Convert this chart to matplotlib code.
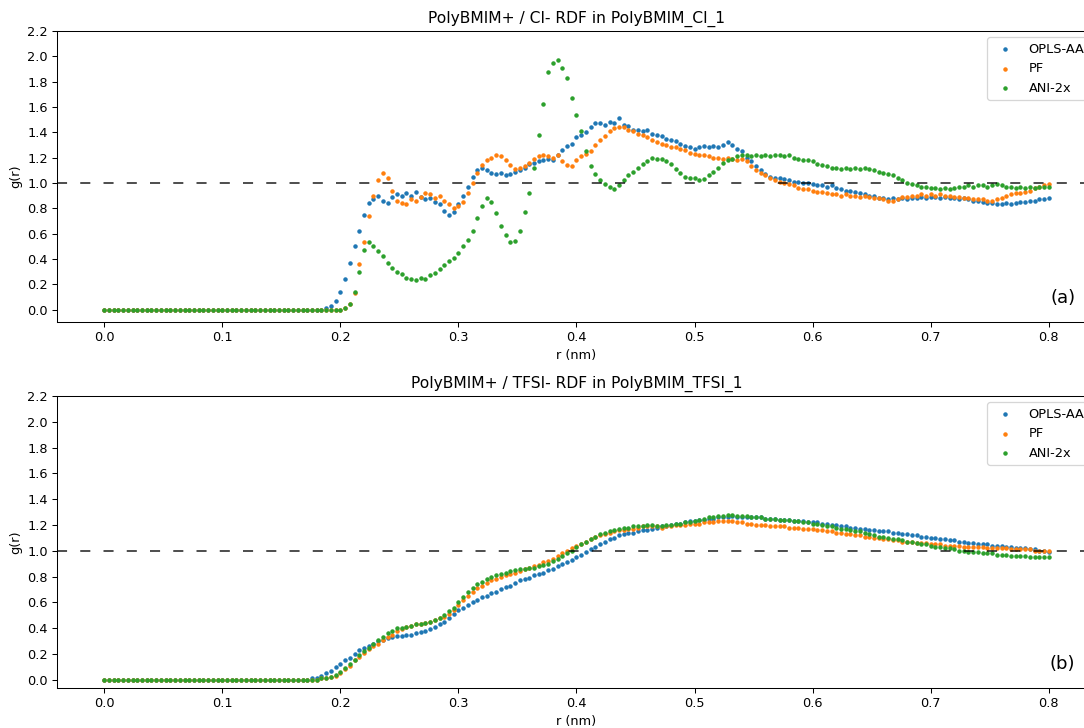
import numpy as np
import matplotlib
matplotlib.use("Agg")
import matplotlib.pyplot as plt

# Radial grid shared by all RDF curves (nm)
R_STEP = 0.004
N_POINTS = 201
r = np.arange(N_POINTS) * R_STEP

labels = ["OPLS-AA", "PF", "ANI-2x"]
colors = ["#1f77b4", "#ff7f0e", "#2ca02c"]

# PolyBMIM+ / Cl- g(r); zero below r = 0.188 nm
cl_opls = [0.0] * 47 + [
    0.01, 0.03, 0.07, 0.14, 0.24, 0.37, 0.50, 0.62, 0.75, 0.84,
    0.87, 0.90, 0.86, 0.84, 0.89, 0.91, 0.90, 0.92, 0.90, 0.93,
    0.89, 0.87, 0.88, 0.85, 0.83, 0.78, 0.75, 0.77, 0.83, 0.90,
    0.97, 1.05, 1.10, 1.12, 1.10, 1.08, 1.07, 1.08, 1.06, 1.07,
    1.09, 1.10, 1.12, 1.15, 1.16, 1.17, 1.18, 1.19, 1.18, 1.22,
    1.26, 1.29, 1.31, 1.36, 1.38, 1.40, 1.44, 1.47, 1.47, 1.46,
    1.48, 1.47, 1.51, 1.46, 1.45, 1.42, 1.42, 1.41, 1.42, 1.39,
    1.38, 1.37, 1.35, 1.34, 1.33, 1.31, 1.29, 1.28, 1.27, 1.28,
    1.29, 1.28, 1.29, 1.28, 1.30, 1.32, 1.30, 1.27, 1.25, 1.20,
    1.17, 1.13, 1.10, 1.07, 1.05, 1.04, 1.04, 1.03, 1.02, 1.01,
    1.01, 1.00, 1.00, 0.99, 0.98, 0.98, 0.97, 0.98, 0.96, 0.95,
    0.94, 0.94, 0.93, 0.92, 0.91, 0.90, 0.90, 0.88, 0.88, 0.87,
    0.88, 0.87, 0.88, 0.87, 0.88, 0.88, 0.89, 0.88, 0.89, 0.89,
    0.88, 0.89, 0.88, 0.88, 0.87, 0.88, 0.87, 0.86, 0.86, 0.85,
    0.84, 0.84, 0.83, 0.83, 0.84, 0.83, 0.84, 0.85, 0.85, 0.86,
    0.86, 0.87, 0.87, 0.88,
]
cl_pf = [0.0] * 47 + [
    0.00, 0.00, 0.00, 0.00, 0.01, 0.04, 0.13, 0.36, 0.53, 0.74,
    0.90, 1.02, 1.08, 1.04, 0.94, 0.86, 0.84, 0.83, 0.87, 0.86,
    0.89, 0.92, 0.91, 0.88, 0.90, 0.86, 0.83, 0.80, 0.82, 0.85,
    0.92, 1.00, 1.08, 1.14, 1.18, 1.20, 1.22, 1.21, 1.18, 1.14,
    1.11, 1.12, 1.13, 1.16, 1.19, 1.21, 1.22, 1.21, 1.20, 1.22,
    1.17, 1.14, 1.13, 1.18, 1.21, 1.23, 1.25, 1.30, 1.34, 1.37,
    1.41, 1.43, 1.44, 1.44, 1.42, 1.41, 1.39, 1.38, 1.36, 1.34,
    1.32, 1.31, 1.30, 1.28, 1.28, 1.27, 1.26, 1.24, 1.23, 1.22,
    1.22, 1.21, 1.20, 1.20, 1.19, 1.20, 1.19, 1.18, 1.19, 1.17,
    1.13, 1.10, 1.08, 1.06, 1.04, 1.02, 1.01, 1.00, 0.99, 0.98,
    0.96, 0.95, 0.95, 0.94, 0.93, 0.93, 0.92, 0.91, 0.91, 0.90,
    0.91, 0.90, 0.90, 0.89, 0.90, 0.89, 0.88, 0.88, 0.87, 0.86,
    0.86, 0.87, 0.89, 0.89, 0.90, 0.90, 0.91, 0.90, 0.91, 0.90,
    0.91, 0.90, 0.90, 0.89, 0.89, 0.88, 0.88, 0.87, 0.87, 0.87,
    0.86, 0.86, 0.87, 0.88, 0.90, 0.91, 0.92, 0.92, 0.93, 0.94,
    0.96, 0.97, 0.98, 0.99,
]
cl_ani = [0.0] * 47 + [
    0.00, 0.00, 0.00, 0.00, 0.01, 0.04, 0.14, 0.30, 0.47, 0.53,
    0.50, 0.46, 0.42, 0.37, 0.33, 0.30, 0.28, 0.25, 0.24, 0.23,
    0.25, 0.24, 0.27, 0.29, 0.32, 0.35, 0.38, 0.41, 0.45, 0.50,
    0.55, 0.62, 0.72, 0.82, 0.88, 0.85, 0.76, 0.66, 0.59, 0.53,
    0.54, 0.62, 0.77, 0.92, 1.12, 1.38, 1.62, 1.88, 1.95, 1.97,
    1.91, 1.83, 1.67, 1.54, 1.41, 1.25, 1.13, 1.07, 1.02, 0.99,
    0.97, 0.95, 0.98, 1.02, 1.06, 1.09, 1.12, 1.15, 1.17, 1.20,
    1.19, 1.19, 1.17, 1.15, 1.11, 1.08, 1.05, 1.04, 1.04, 1.02,
    1.03, 1.06, 1.09, 1.12, 1.16, 1.18, 1.19, 1.21, 1.22, 1.22,
    1.21, 1.22, 1.21, 1.22, 1.21, 1.22, 1.22, 1.21, 1.22, 1.20,
    1.19, 1.18, 1.18, 1.17, 1.15, 1.14, 1.13, 1.12, 1.12, 1.11,
    1.12, 1.11, 1.12, 1.11, 1.12, 1.11, 1.10, 1.09, 1.08, 1.07,
    1.06, 1.04, 1.02, 1.00, 0.99, 0.98, 0.97, 0.97, 0.96, 0.96,
    0.95, 0.96, 0.95, 0.96, 0.97, 0.97, 0.98, 0.97, 0.98, 0.98,
    0.97, 0.98, 0.99, 0.98, 0.97, 0.97, 0.96, 0.97, 0.96, 0.97,
    0.96, 0.97, 0.97, 0.97,
]

# PolyBMIM+ / TFSI- g(r); zero below r = 0.172 nm
tfsi_opls = [0.0] * 43 + [
    0.00, 0.01, 0.01, 0.03, 0.05, 0.07, 0.10, 0.12, 0.15, 0.17,
    0.20, 0.23, 0.25, 0.26, 0.28, 0.30, 0.31, 0.32, 0.33, 0.34,
    0.34, 0.35, 0.35, 0.36, 0.37, 0.38, 0.39, 0.41, 0.43, 0.45,
    0.48, 0.51, 0.54, 0.56, 0.58, 0.60, 0.62, 0.64, 0.65, 0.67,
    0.68, 0.70, 0.72, 0.73, 0.75, 0.77, 0.78, 0.79, 0.81, 0.82,
    0.83, 0.85, 0.86, 0.88, 0.90, 0.91, 0.93, 0.95, 0.97, 0.99,
    1.01, 1.03, 1.05, 1.07, 1.09, 1.10, 1.12, 1.13, 1.14, 1.14,
    1.15, 1.16, 1.16, 1.17, 1.18, 1.19, 1.19, 1.20, 1.21, 1.21,
    1.22, 1.23, 1.23, 1.24, 1.24, 1.25, 1.25, 1.26, 1.26, 1.26,
    1.27, 1.26, 1.26, 1.26, 1.26, 1.26, 1.26, 1.25, 1.25, 1.25,
    1.24, 1.24, 1.24, 1.23, 1.23, 1.23, 1.22, 1.22, 1.22, 1.21,
    1.21, 1.20, 1.20, 1.19, 1.19, 1.18, 1.18, 1.17, 1.17, 1.16,
    1.16, 1.15, 1.15, 1.15, 1.14, 1.14, 1.13, 1.13, 1.12, 1.12,
    1.11, 1.11, 1.10, 1.10, 1.09, 1.09, 1.08, 1.08, 1.07, 1.07,
    1.06, 1.06, 1.05, 1.05, 1.05, 1.04, 1.04, 1.04, 1.03, 1.03,
    1.02, 1.02, 1.02, 1.01, 1.01, 1.00, 1.00, 0.99,
]
tfsi_pf = [0.0] * 43 + [
    0.00, 0.00, 0.00, 0.01, 0.01, 0.02, 0.03, 0.05, 0.08, 0.11,
    0.15, 0.18, 0.21, 0.24, 0.26, 0.28, 0.31, 0.33, 0.35, 0.38,
    0.39, 0.41, 0.42, 0.43, 0.43, 0.44, 0.45, 0.46, 0.48, 0.49,
    0.51, 0.54, 0.58, 0.62, 0.65, 0.68, 0.71, 0.73, 0.75, 0.77,
    0.78, 0.80, 0.81, 0.82, 0.83, 0.84, 0.86, 0.87, 0.88, 0.89,
    0.91, 0.92, 0.94, 0.96, 0.98, 1.00, 1.02, 1.04, 1.05, 1.07,
    1.09, 1.11, 1.12, 1.13, 1.14, 1.15, 1.16, 1.16, 1.17, 1.17,
    1.18, 1.19, 1.19, 1.19, 1.19, 1.18, 1.19, 1.19, 1.20, 1.20,
    1.20, 1.21, 1.21, 1.21, 1.22, 1.22, 1.22, 1.23, 1.23, 1.23,
    1.23, 1.22, 1.22, 1.21, 1.21, 1.20, 1.20, 1.20, 1.19, 1.19,
    1.19, 1.19, 1.18, 1.18, 1.18, 1.17, 1.17, 1.17, 1.16, 1.16,
    1.15, 1.15, 1.14, 1.14, 1.13, 1.13, 1.12, 1.12, 1.11, 1.11,
    1.10, 1.10, 1.09, 1.09, 1.08, 1.08, 1.07, 1.07, 1.07, 1.06,
    1.06, 1.06, 1.05, 1.05, 1.05, 1.04, 1.04, 1.04, 1.04, 1.03,
    1.03, 1.03, 1.03, 1.03, 1.02, 1.02, 1.02, 1.02, 1.02, 1.01,
    1.01, 1.01, 1.01, 1.01, 1.00, 1.00, 1.00, 1.00,
]
tfsi_ani = [0.0] * 43 + [
    0.00, 0.00, 0.00, 0.01, 0.01, 0.02, 0.04, 0.06, 0.09, 0.12,
    0.15, 0.19, 0.22, 0.25, 0.28, 0.31, 0.33, 0.36, 0.38, 0.40,
    0.40, 0.41, 0.42, 0.43, 0.43, 0.44, 0.45, 0.46, 0.48, 0.50,
    0.53, 0.56, 0.60, 0.64, 0.68, 0.71, 0.74, 0.76, 0.78, 0.80,
    0.81, 0.82, 0.83, 0.84, 0.85, 0.86, 0.86, 0.87, 0.87, 0.88,
    0.89, 0.90, 0.92, 0.94, 0.96, 0.98, 1.00, 1.03, 1.05, 1.07,
    1.09, 1.11, 1.13, 1.14, 1.15, 1.16, 1.17, 1.18, 1.18, 1.19,
    1.19, 1.19, 1.20, 1.20, 1.19, 1.19, 1.20, 1.20, 1.21, 1.21,
    1.22, 1.22, 1.23, 1.24, 1.25, 1.26, 1.26, 1.27, 1.27, 1.28,
    1.28, 1.27, 1.27, 1.27, 1.26, 1.26, 1.26, 1.25, 1.25, 1.25,
    1.24, 1.24, 1.24, 1.23, 1.23, 1.22, 1.22, 1.21, 1.21, 1.20,
    1.19, 1.19, 1.18, 1.17, 1.17, 1.16, 1.15, 1.15, 1.14, 1.13,
    1.12, 1.11, 1.11, 1.10, 1.09, 1.09, 1.08, 1.07, 1.07, 1.06,
    1.05, 1.05, 1.04, 1.03, 1.03, 1.02, 1.02, 1.01, 1.00, 1.00,
    0.99, 0.99, 0.99, 0.98, 0.98, 0.98, 0.97, 0.97, 0.97, 0.96,
    0.96, 0.96, 0.96, 0.95, 0.95, 0.95, 0.95, 0.95,
]

panels = [
    ("PolyBMIM+ / Cl- RDF in PolyBMIM_Cl_1", "(a)", [cl_opls, cl_pf, cl_ani]),
    ("PolyBMIM+ / TFSI- RDF in PolyBMIM_TFSI_1", "(b)", [tfsi_opls, tfsi_pf, tfsi_ani]),
]

W, H = 1084, 728
DPI = 93
fig = plt.figure(figsize=(W / DPI, H / DPI), dpi=DPI)

# axes boxes in pixels: left, top, right, bottom (right edge runs past the canvas)
boxes = [(57, 31, 1096, 322), (57, 396, 1096, 688)]

for (title, tag, series), (x0, y0, x1, y1) in zip(panels, boxes):
    ax = fig.add_axes([x0 / W, 1 - y1 / H, (x1 - x0) / W, (y1 - y0) / H])
    for g, lab, col in zip(series, labels, colors):
        ax.scatter(r, g, s=6, color=col, label=lab)
    ax.axhline(1.0, color="k", alpha=0.7, linewidth=1.5, dashes=(5.2, 6.8))
    ax.set_ylim(top=2.2)
    ax.set_yticks(np.arange(0, 2.21, 0.2))
    ax.set_xticks(np.arange(0, 0.81, 0.1))
    ax.set_title(title)
    ax.set_xlabel("r (nm)")
    ax.set_ylabel("g(r)")
    ax.legend(loc="upper right")
    ax.text(0.98, 0.05, tag, transform=ax.transAxes, fontsize=14,
            ha="right", va="bottom")

fig.savefig("out.png", dpi=DPI)
